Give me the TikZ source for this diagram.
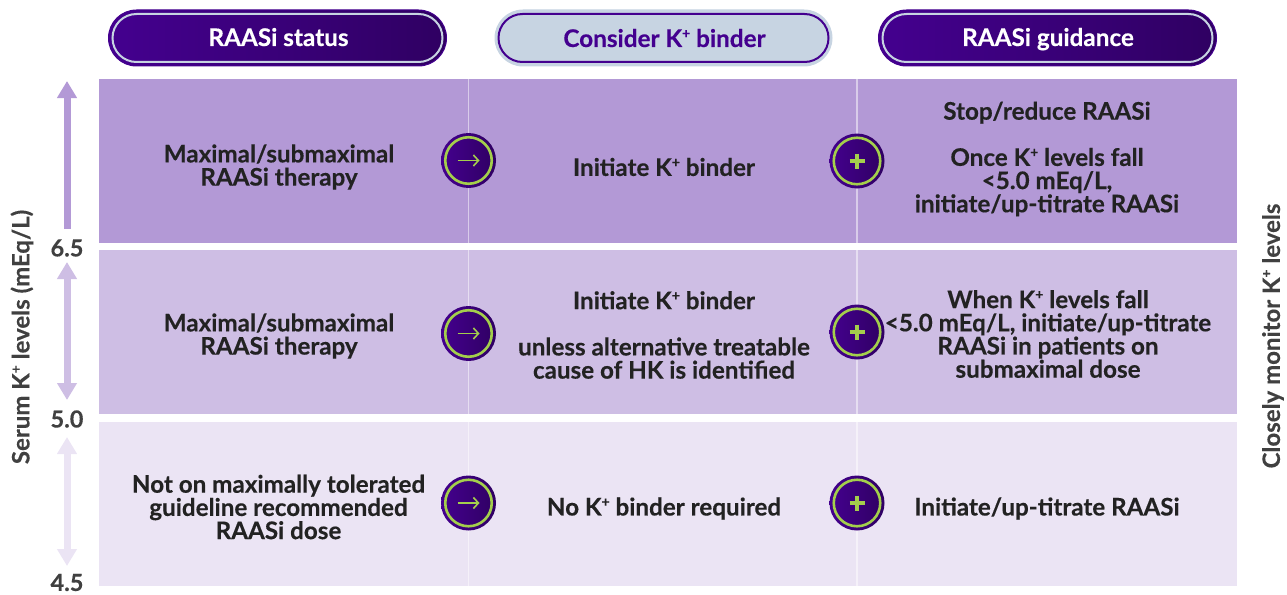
\documentclass[tikz,border=0pt]{standalone}
\usepackage{fontspec}
\setmainfont{Lato}[BoldFeatures={FakeBold=0.35}]
\usepackage{tikz}
\usetikzlibrary{positioning}
\usetikzlibrary{calc}
\usetikzlibrary{arrows.meta}
\newcommand{\Kion}{K\raisebox{.36em}{\fontsize{14}{14}\selectfont +}}
\definecolor{rowdark}{HTML}{B399D6}
\definecolor{rowmid}{HTML}{CEBEE4}
\definecolor{rowlight}{HTML}{EBE4F4}
\definecolor{pillleft}{HTML}{44008F}
\definecolor{pillright}{HTML}{2F0062}
\definecolor{pillpale}{HTML}{C7D4E2}
\definecolor{markgreen}{HTML}{A4CF4C}
\definecolor{inktext}{HTML}{222222}
\definecolor{axistext}{HTML}{404040}
\tikzset{
	rowband/.style={minimum width=1138pt, minimum height=164pt, inner sep=0pt},
	celltext/.style={font=\fontsize{24.2}{23.2}\selectfont\bfseries, text=inktext, align=center, inner sep=0pt},
	headtext/.style={font=\fontsize{24.3}{24}\selectfont\bfseries, anchor=base, inner sep=0pt},
	pilldark/.style={minimum width=338pt, minimum height=56pt, rounded corners=28pt, draw=pillleft, line width=1pt, left color=pillleft, right color=pillright, inner sep=0pt},
	pilllight/.style={minimum width=337pt, minimum height=56pt, rounded corners=28pt, draw=pillpale, line width=1pt, fill=pillpale, inner sep=0pt},
	pillring/.style={minimum width=330pt, minimum height=48pt, rounded corners=24pt, line width=2pt, inner sep=0pt},
	badge/.style={circle, minimum size=55pt, left color=pillleft, right color=pillright, inner sep=0pt},
	badgering/.style={circle, minimum size=46.5pt, draw=markgreen, line width=2.6pt, inner sep=0pt},
	markline/.style={markgreen, line width=1.6pt},
	axisnum/.style={font=\fontsize{23.5}{23.5}\selectfont\bfseries, text=axistext, inner sep=0pt},
	axislabel/.style={font=\fontsize{24}{24}\selectfont\bfseries, text=axistext, rotate=90, inner sep=0pt},
	levelarrow/.style={line width=7pt}
}

\begin{document}
\begin{tikzpicture}[x=1pt,y=-1pt]
	\useasboundingbox (0,0) rectangle (1287,594);

	% bands
	\node [rowband, fill=rowdark] at (668,161) (row1) {};
	\node [rowband, fill=rowmid, below=7pt of row1] (row2) {};
	\node [rowband, fill=rowlight, below=7.5pt of row2] (row3) {};

	% column rules
	\coordinate (col1top) at (468.5,79); \coordinate (col1bot) at (468.5,586);
	\coordinate (col2top) at (857,79); \coordinate (col2bot) at (857,586);
	\draw [white, opacity=.5, line width=1.2pt] (col1top) -- (col1bot);
	\draw [white, opacity=.5, line width=1.2pt] (col2top) -- (col2bot);

	% headers
	\node [pilldark] at (277.5,38) (head1) {};
	\node [pillring, draw=pillpale] at (head1.center) (head1ring) {};
	\node [headtext, text=white] at (278.5,46) (head1text) {RAASi status};
	\node [pilllight] at (663.5,38) (head2) {};
	\node [pillring, draw=pillleft] at (head2.center) (head2ring) {};
	\node [headtext, text=pillleft] at (664.5,47) (head2text) {Consider \Kion\ binder};
	\node [pilldark] at (1047.5,38) (head3) {};
	\node [pillring, draw=pillpale] at (head3.center) (head3ring) {};
	\node [headtext, text=white] at (1048,46) (head3text) {RAASi guidance};

	% first row
	\node [celltext] at (279,167) (status1) {Maximal/submaximal\\RAASi therapy};
	\node [celltext] at (664,167) (binder1) {Initiate \Kion\ binder};
	\node [celltext] at (1047,159) (guide1) {Stop/reduce RAASi\\[23pt]Once \Kion\ levels fall\\<5.0 mEq/L,\\initiate/up-titrate RAASi};

	% second row
	\node [celltext] at (279,336) (status2) {Maximal/submaximal\\RAASi therapy};
	\node [celltext] at (664,335) (binder2) {Initiate \Kion\ binder\\[23pt]unless alternative treatable\\cause of HK is identified};
	\node [celltext] at (1048,334) (guide2) {When \Kion\ levels fall\\<5.0 mEq/L, initiate/up-titrate\\RAASi in patients on\\submaximal dose};

	% third row
	\node [celltext] at (278.5,507) (status3) {Not on maximally tolerated\\guideline recommended\\RAASi dose};
	\node [celltext] at (664,508.5) (binder3) {No \Kion\ binder required};
	\node [celltext] at (1047,508.5) (guide3) {Initiate/up-titrate RAASi};

	% badges
	\node [badge] at (468.5,160.5) (arrow1) {}; \node [badgering] at (arrow1.center) (arrow1ring) {};
	\node [badge] at (468.5,333.5) (arrow2) {}; \node [badgering] at (arrow2.center) (arrow2ring) {};
	\node [badge] at (468.5,503) (arrow3) {}; \node [badgering] at (arrow3.center) (arrow3ring) {};
	\node [badge] at (857,161) (plus1) {}; \node [badgering] at (plus1.center) (plus1ring) {};
	\node [badge] at (857,332) (plus2) {}; \node [badgering] at (plus2.center) (plus2ring) {};
	\node [badge] at (857,503) (plus3) {}; \node [badgering] at (plus3.center) (plus3ring) {};

	\draw [markline, -{Straight Barb[length=5pt,width=11pt]}] ($(arrow1)+(-11,0)$) -- ($(arrow1)+(11,0)$);
	\draw [markline, -{Straight Barb[length=5pt,width=11pt]}] ($(arrow2)+(-11,0)$) -- ($(arrow2)+(11,0)$);
	\draw [markline, -{Straight Barb[length=5pt,width=11pt]}] ($(arrow3)+(-11,0)$) -- ($(arrow3)+(11,0)$);
	\draw [markgreen, line width=3.5pt] ($(plus1)+(-7.5,0)$) -- ($(plus1)+(7.5,0)$); \draw [markgreen, line width=3.5pt] ($(plus1)+(0,-7.5)$) -- ($(plus1)+(0,7.5)$);
	\draw [markgreen, line width=3.5pt] ($(plus2)+(-7.5,0)$) -- ($(plus2)+(7.5,0)$); \draw [markgreen, line width=3.5pt] ($(plus2)+(0,-7.5)$) -- ($(plus2)+(0,7.5)$);
	\draw [markgreen, line width=3.5pt] ($(plus3)+(-7.5,0)$) -- ($(plus3)+(7.5,0)$); \draw [markgreen, line width=3.5pt] ($(plus3)+(0,-7.5)$) -- ($(plus3)+(0,7.5)$);

	% axis
	\node [axisnum] at (67,248) (num65) {6.5};
	\node [axisnum] at (67,419) (num50) {5.0};
	\node [axisnum] at (67,582.5) (num45) {4.5};
	\coordinate (arrow1bot) at (67,229); \coordinate (arrow1top) at (67,81);
	\coordinate (arrow2top) at (67,262); \coordinate (arrow2bot) at (67,400);
	\coordinate (arrow3top) at (67,437); \coordinate (arrow3bot) at (67,566);
	\draw [rowdark, levelarrow, -{Triangle[width=19pt,length=17pt]}] (arrow1bot) -- (arrow1top);
	\draw [rowmid, levelarrow, {Triangle[width=19pt,length=17pt]}-{Triangle[width=19pt,length=17pt]}] (arrow2top) -- (arrow2bot);
	\draw [rowlight, levelarrow, {Triangle[width=19pt,length=17pt]}-{Triangle[width=19pt,length=17pt]}] (arrow3top) -- (arrow3bot);
	\node [axislabel] at (22,337) (serumlabel) {Serum \Kion\ levels (mEq/L)};
	\node [axislabel] at (1273,336) (monitorlabel) {Closely monitor \Kion\ levels};
\end{tikzpicture}
\end{document}
